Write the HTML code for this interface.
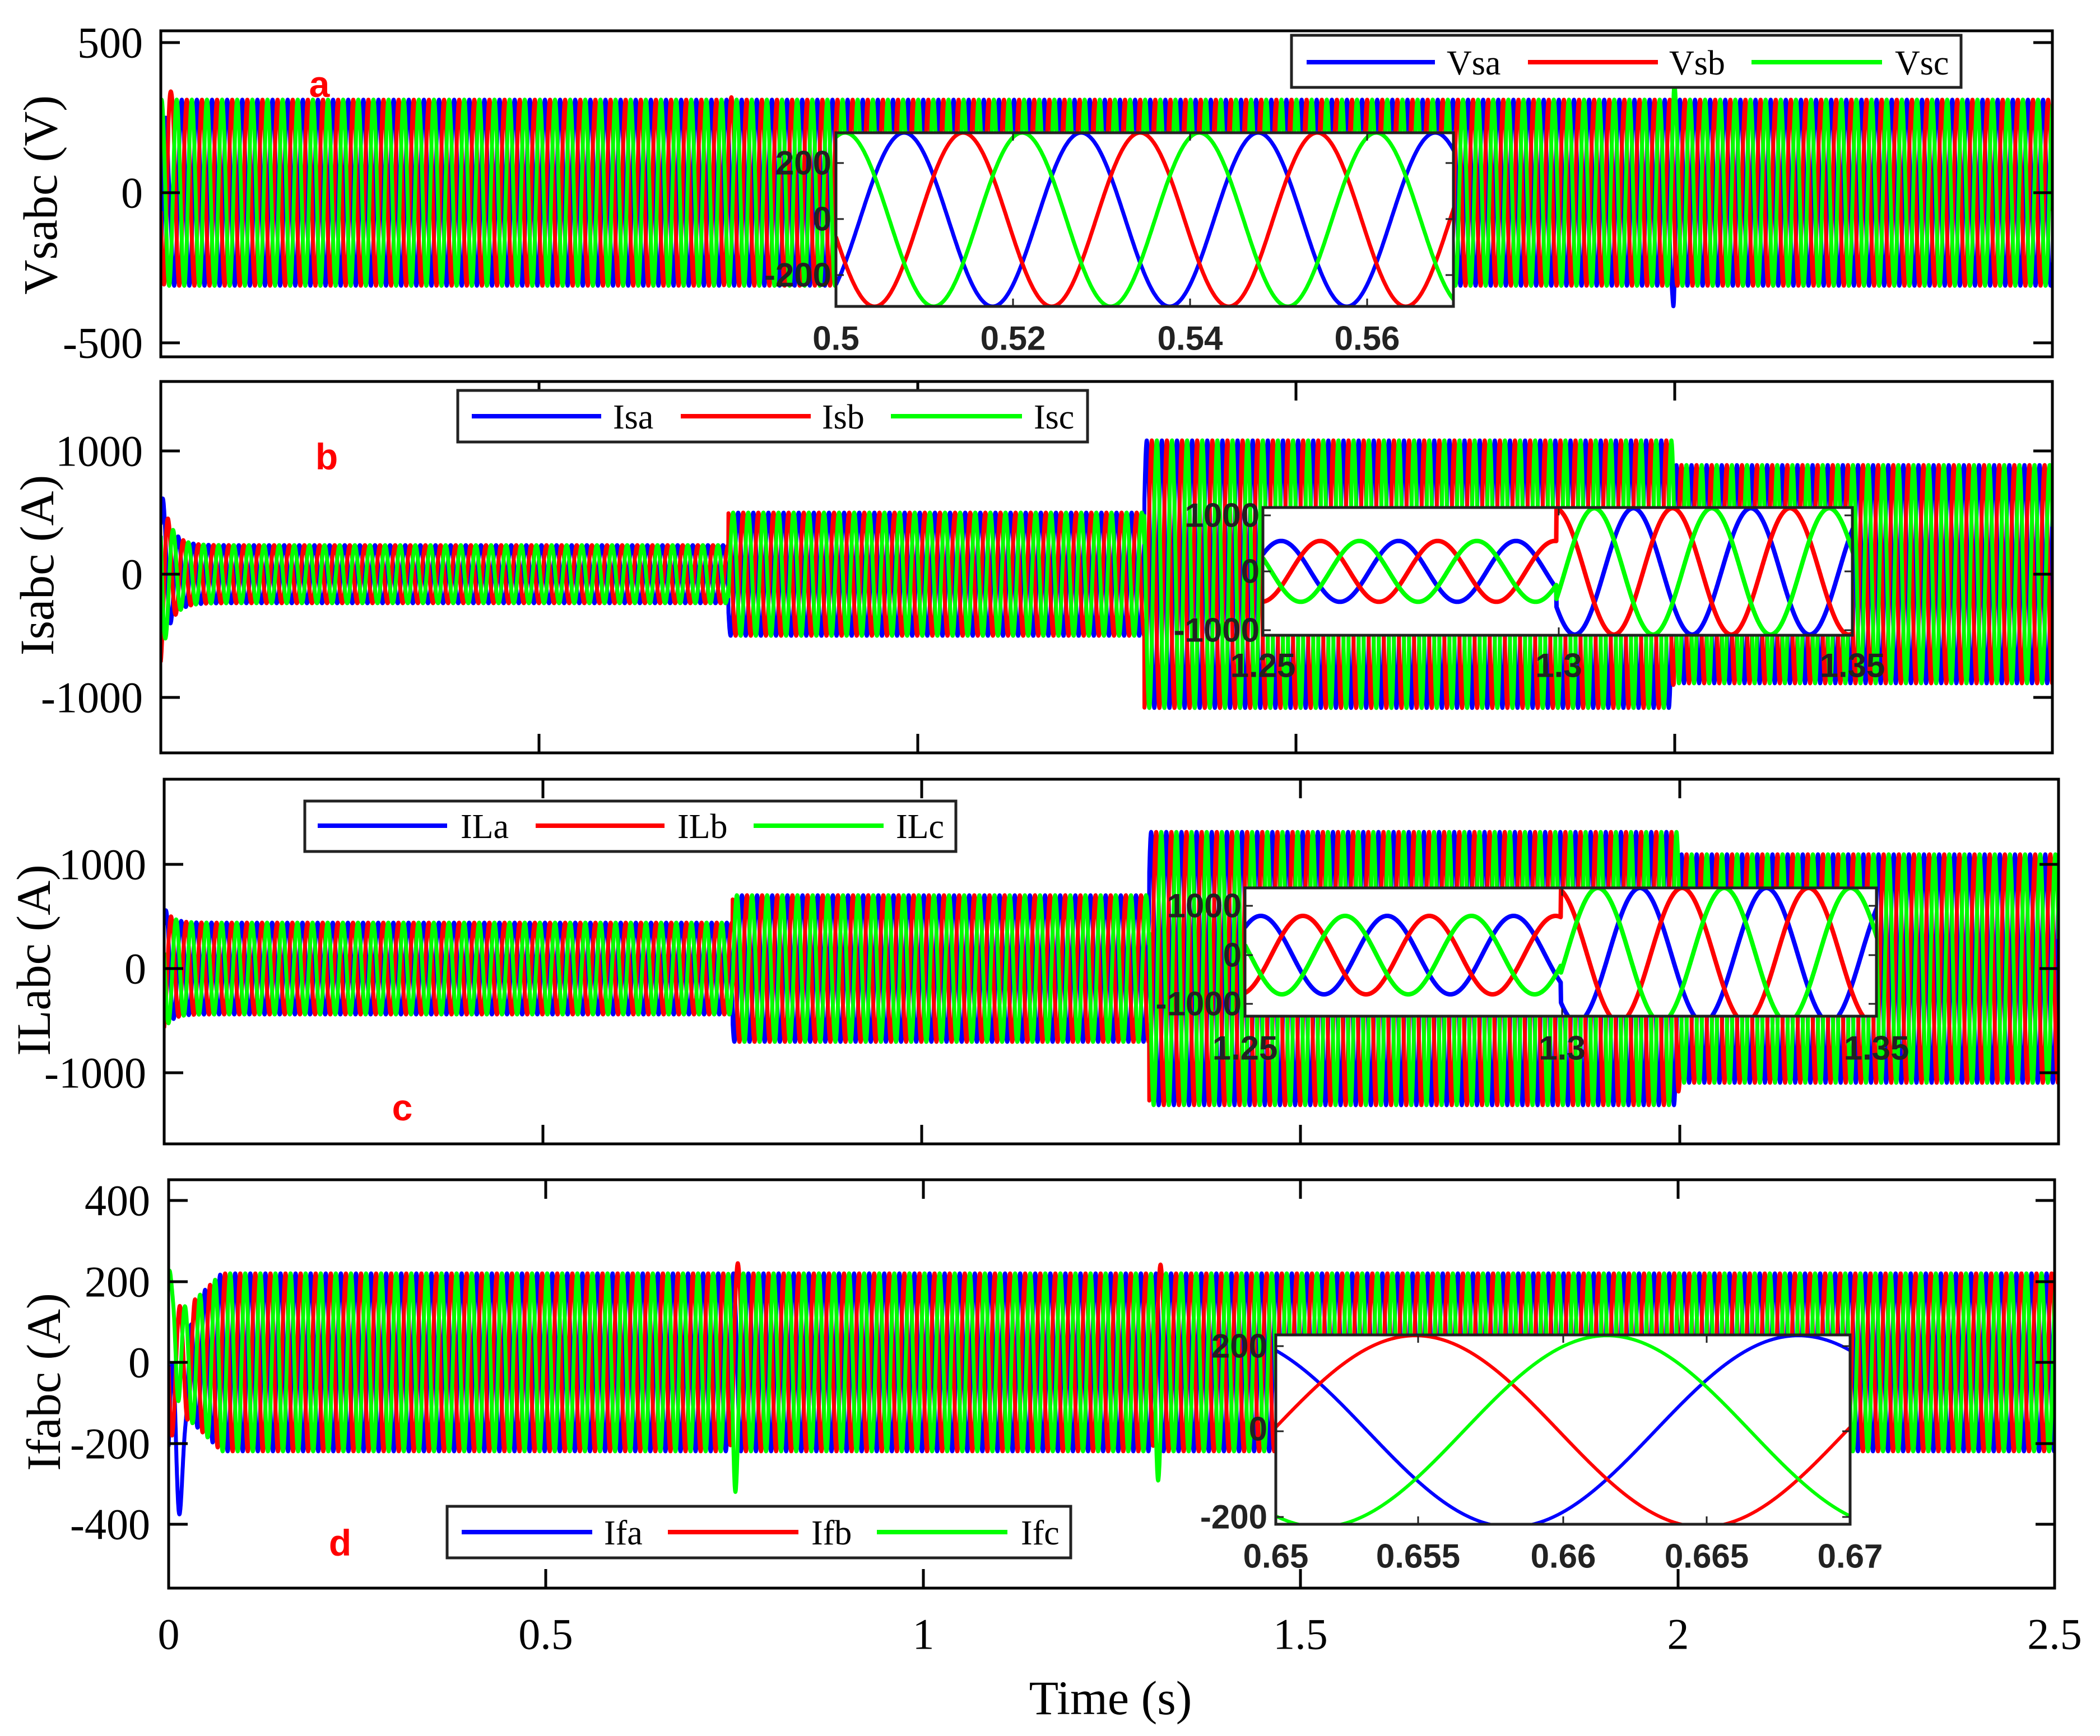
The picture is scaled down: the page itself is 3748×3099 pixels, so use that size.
<!DOCTYPE html>
<html><head><meta charset="utf-8">
<style>
html,body{margin:0;padding:0;background:#fff;}
svg{display:block;}
.tk{font-family:"Liberation Serif",serif;font-size:78px;fill:#000;}
.ax{font-family:"Liberation Serif",serif;font-size:86px;fill:#000;}
.lg{font-family:"Liberation Serif",serif;font-size:62px;fill:#000;}
.in{font-family:"Liberation Sans",sans-serif;font-size:60px;font-weight:bold;fill:#222;}
.pl{font-family:"Liberation Sans",sans-serif;font-size:66px;font-weight:bold;fill:#f00;}
</style></head>
<body>
<svg id="s" width="3748" height="3099" viewBox="0 0 3748 3099" xmlns="http://www.w3.org/2000/svg">
<defs>
<clipPath id="ca"><rect x="287" y="55" width="3376" height="582"/></clipPath>
<clipPath id="cb"><rect x="287" y="681" width="3376" height="663"/></clipPath>
<clipPath id="cc"><rect x="293" y="1391" width="3381" height="651"/></clipPath>
<clipPath id="cd"><rect x="301" y="2106" width="3366" height="729"/></clipPath>
<clipPath id="ia"><rect x="1492" y="237" width="1102" height="310"/></clipPath>
<clipPath id="ib"><rect x="2254" y="906" width="1052" height="228"/></clipPath>
<clipPath id="ic"><rect x="2222" y="1585" width="1127" height="229"/></clipPath>
<clipPath id="id"><rect x="2277" y="2383" width="1025" height="338"/></clipPath>
</defs>
<g id="main"></g>
<g id="insets"></g>
<g id="static" fill="none" stroke="#000" stroke-width="5">
<rect x="287" y="55" width="3376" height="582"/>
<rect x="287" y="681" width="3376" height="663"/>
<rect x="293" y="1391" width="3381" height="651"/>
<rect x="301" y="2106" width="3366" height="729"/>
<path d="M287 76h34M287 344h34M287 612h34M3663 76h-34M3663 344h-34M3663 612h-34"/>
<path d="M287 805h34M287 1025h34M287 1245h34M3663 805h-34M3663 1025h-34M3663 1245h-34"/>
<path d="M962 681v34M1638 681v34M2313 681v34M2989 681v34M962 1344v-34M1638 1344v-34M2313 1344v-34M2989 1344v-34"/>
<path d="M293 1543h34M293 1729h34M293 1915h34M3674 1543h-34M3674 1729h-34M3674 1915h-34"/>
<path d="M969 1391v34M1645 1391v34M2321 1391v34M2998 1391v34M969 2042v-34M1645 2042v-34M2321 2042v-34M2998 2042v-34"/>
<path d="M301 2143h34M301 2288h34M301 2432h34M301 2577h34M301 2721h34M3667 2143h-34M3667 2288h-34M3667 2432h-34M3667 2577h-34M3667 2721h-34"/>
<path d="M974 2106v34M1648 2106v34M2321 2106v34M2995 2106v34M974 2835v-34M1648 2835v-34M2321 2835v-34M2995 2835v-34"/>
</g>
<g stroke-width="8">
<rect x="2305" y="63" width="1195" height="93" fill="#fff" stroke="#222" stroke-width="5"/>
<path d="M2332 111H2561" stroke="#00f"/><path d="M2727 111H2959" stroke="#f00"/><path d="M3126 111H3359" stroke="#0f0"/>
<rect x="817" y="697" width="1124" height="92" fill="#fff" stroke="#222" stroke-width="5"/>
<path d="M842 743H1073" stroke="#00f"/><path d="M1215 743H1447" stroke="#f00"/><path d="M1590 743H1824" stroke="#0f0"/>
<rect x="544" y="1430" width="1162" height="90" fill="#fff" stroke="#222" stroke-width="5"/>
<path d="M567 1474H798" stroke="#00f"/><path d="M956 1474H1186" stroke="#f00"/><path d="M1345 1474H1577" stroke="#0f0"/>
<rect x="798" y="2689" width="1113" height="92" fill="#fff" stroke="#222" stroke-width="5"/>
<path d="M824 2735H1057" stroke="#00f"/><path d="M1192 2735H1425" stroke="#f00"/><path d="M1565 2735H1798" stroke="#0f0"/>
</g>
<g class="lg" dominant-baseline="central">
<text x="2582" y="113">Vsa</text><text x="2979" y="113">Vsb</text><text x="3382" y="113">Vsc</text>
<text x="1094" y="745">Isa</text><text x="1467" y="745">Isb</text><text x="1845" y="745">Isc</text>
<text x="822" y="1476">ILa</text><text x="1209" y="1476">ILb</text><text x="1599" y="1476">ILc</text>
<text x="1078" y="2737">Ifa</text><text x="1448" y="2737">Ifb</text><text x="1822" y="2737">Ifc</text>
</g>
<g class="tk" text-anchor="end" dominant-baseline="central">
<text x="255" y="76">500</text><text x="255" y="344">0</text><text x="255" y="612">-500</text>
<text x="255" y="805">1000</text><text x="255" y="1025">0</text><text x="255" y="1245">-1000</text>
<text x="261" y="1543">1000</text><text x="261" y="1729">0</text><text x="261" y="1915">-1000</text>
<text x="268" y="2143">400</text><text x="268" y="2288">200</text><text x="268" y="2432">0</text><text x="268" y="2577">-200</text><text x="268" y="2721">-400</text>
</g>
<g class="tk" text-anchor="middle" dominant-baseline="central">
<text x="301" y="2917">0</text><text x="974" y="2917">0.5</text><text x="1648" y="2917">1</text><text x="2321" y="2917">1.5</text><text x="2995" y="2917">2</text><text x="3667" y="2917">2.5</text>
</g>
<text class="ax" x="1982" y="3031" text-anchor="middle" dominant-baseline="central">Time (s)</text>
<g class="ax" text-anchor="middle" dominant-baseline="central">
<text transform="translate(72,348) rotate(-90)">Vsabc (V)</text>
<text transform="translate(66,1009) rotate(-90)">Isabc (A)</text>
<text transform="translate(60,1714) rotate(-90)">ILabc (A)</text>
<text transform="translate(78,2467) rotate(-90)">Ifabc (A)</text>
</g>
<g class="pl" text-anchor="middle" dominant-baseline="central">
<text x="570" y="150">a</text><text x="583" y="815">b</text><text x="718" y="1977">c</text><text x="607" y="2754">d</text>
</g>
<g id="insetText" class="in" dominant-baseline="central"></g>
</svg>
<script>
(function(){
var NS="http://www.w3.org/2000/svg";
var W=2*Math.PI*50, P=2*Math.PI/3;
var cols=["#0000ff","#ff0000","#00ff00"];
var main=document.getElementById("main"), ins=document.getElementById("insets"), it=document.getElementById("insetText");
function el(n,a,p){var e=document.createElementNS(NS,n);for(var k in a)e.setAttribute(k,a[k]);p.appendChild(e);return e;}
function g(t,c,h,w){return h*Math.exp(-Math.pow((t-c)/w,2));}
function draw(parent,clip,t0,t1,x0,pxs,ymid,py,amp,tb,extra,sw,dt){
  var grp=el("g",{"clip-path":"url(#"+clip+")"},parent);
  for(var k=0;k<3;k++){
    var ph=[0,-P,P][k], d="";
    for(var t=t0;t<=t1;t+=dt){
      var v=amp(t)*Math.cos(W*(t-tb)+ph)+(extra?extra(t,k):0);
      var x=x0+(t-t0)*pxs, y=ymid-py*v;
      d+=(d?"L":"M")+x.toFixed(1)+" "+y.toFixed(1);
    }
    el("path",{d:d,fill:"none",stroke:cols[k],"stroke-width":sw,"stroke-linejoin":"round"},grp);
  }
}
var dt=0.00025;
draw(main,"ca",0,2.5,287,1350.4,344,0.536,function(t){return 310;},0.0077,function(t,k){
 if(k==1)return g(t,0.01,150,0.003)+g(t,0.75,60,0.003);
 if(k==0)return g(t,0.01,-150,0.003)+g(t,2.0,-120,0.002);
 return g(t,2.0,60,0.002);},7,dt);
draw(main,"cb",0,2.5,287,1350.4,1025,0.22,function(t){
 if(t<0.75)return 236+480*Math.exp(-t/0.012); if(t<1.3)return 500; if(t<2)return 1086; return 886;},0.0031,function(t,k){
 return k==1?g(t,2.0,200,0.002):0;},7,dt);
draw(main,"cc",0,2.5,293,1352.4,1729,0.186,function(t){
 if(t<0.75)return 441+150*Math.exp(-t/0.01); if(t<1.3)return 704; if(t<2)return 1312; return 1097;},0.0025,function(t,k){
 return k==1?g(t,2.0,180,0.002):0;},7,dt);
draw(main,"cd",0,2.5,301,1347,2432,0.7225,function(t){
 if(t<0.07)return 220*(0.4+0.6*t/0.07)+150*Math.exp(-t/0.008); return 220;},0.0082,function(t,k){
 var e=0;
 if(k==0)e+=g(t,0.012,-380,0.006)+g(t,0.025,-150,0.004);
 if(k==1)e+=g(t,0.75,90,0.004)+g(t,1.31,80,0.004)+g(t,2.0,50,0.002);
 if(k==2)e+=g(t,0.008,150,0.004)+g(t,0.75,-110,0.004)+g(t,1.31,-80,0.004);
 return e;},7,dt);
function inset(x,y,w,h){el("rect",{x:x,y:y,width:w,height:h,fill:"#fff"},ins);}
inset(1492,237,1102,310);inset(2254,906,1052,228);inset(2222,1585,1127,229);inset(2277,2383,1025,338);
draw(ins,"ia",0.5,0.5705,1492,15800,392,0.5,function(t){return 310;},0.5077,null,7,0.00005);
draw(ins,"ib",1.25,1.351,2254,10480,1020,0.1025,function(t){return t<1.3?530:1100;},1.2531,null,8,0.00005);
draw(ins,"ic",1.25,1.351,2222,11280,1705,0.0875,function(t){return t<1.3?800:1370;},1.2525,null,8,0.00005);
draw(ins,"id",0.65,0.6701,2277,51250,2555,0.7625,function(t){return 224;},0.6682,null,6,0.00001);
function fr(x,y,w,h,xt,yt){
 el("rect",{x:x,y:y,width:w,height:h,fill:"none",stroke:"#222","stroke-width":5},ins);
 var d="";xt.forEach(function(v){d+="M"+v+" "+(y+h)+"v-14M"+v+" "+y+"v14";});
 yt.forEach(function(v){d+="M"+x+" "+v+"h14M"+(x+w)+" "+v+"h-14";});
 el("path",{d:d,stroke:"#222","stroke-width":3,fill:"none"},ins);
}
fr(1492,237,1102,310,[1808,2124,2440],[291,391,491]);
fr(2254,906,1052,228,[2782],[920,1020,1125]);
fr(2222,1585,1127,229,[2788],[1617,1705,1792]);
fr(2277,2383,1025,338,[2531,2790,3046],[2403,2555,2708]);
function tx(x,y,s,a){var e=el("text",{x:x,y:y,"text-anchor":a},it);e.textContent=s;}
tx(1484,291,"200","end");tx(1484,391,"0","end");tx(1484,491,"-200","end");
[["0.5",1492],["0.52",1808],["0.54",2124],["0.56",2440]].forEach(function(p){tx(p[1],604,p[0],"middle");});
tx(2248,920,"1000","end");tx(2248,1020,"0","end");tx(2248,1125,"-1000","end");
[["1.25",2254],["1.3",2782],["1.35",3306]].forEach(function(p){tx(p[1],1188,p[0],"middle");});
tx(2216,1617,"1000","end");tx(2216,1705,"0","end");tx(2216,1792,"-1000","end");
[["1.25",2222],["1.3",2788],["1.35",3349]].forEach(function(p){tx(p[1],1871,p[0],"middle");});
tx(2262,2403,"200","end");tx(2262,2551,"0","end");tx(2262,2708,"-200","end");
[["0.65",2277],["0.655",2531],["0.66",2790],["0.665",3046],["0.67",3302]].forEach(function(p){tx(p[1],2778,p[0],"middle");});
})();
</script>
</body></html>
